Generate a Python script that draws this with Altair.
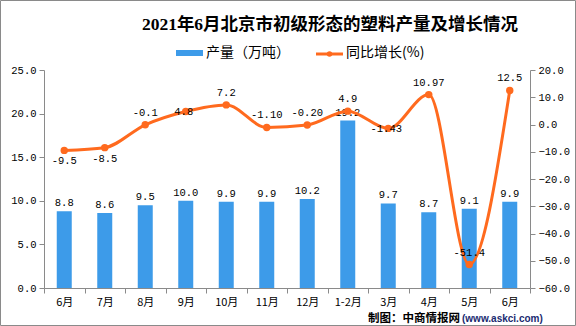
import json
import altair as alt
import pandas as pd

# ---- data ----
months = ["6月", "7月", "8月", "9月", "10月", "11月", "12月", "1-2月", "3月", "4月", "5月", "6月"]
output = [8.8, 8.6, 9.5, 10.0, 9.9, 9.9, 10.2, 19.2, 9.7, 8.7, 9.1, 9.9]
growth = [-9.5, -8.5, -0.1, 4.8, 7.2, -1.10, -0.20, 4.9, -1.43, 10.97, -51.4, 12.5]
growth_labels = ["-9.5", "-8.5", "-0.1", "4.8", "7.2", "-1.10", "-0.20", "4.9", "-1.43", "10.97", "-51.4", "12.5"]
left_ticks = [0, 5, 10, 15, 20, 25]
right_ticks = [-60, -50, -40, -30, -20, -10, 0, 10, 20]

df = pd.DataFrame({
    "idx": list(range(len(months))),
    "month": months,
    "output": output,
    "growth": growth,
    "glabel": growth_labels,
})

BLUE = "#3d9be9"
ORANGE = "#ff6a1e"
GRAY = "#8a8a8a"
MONO = "Liberation Mono"
CJK = "Noto Sans CJK SC"

label_expr = json.dumps(months, ensure_ascii=False) + "[datum.value]"

x_enc = alt.X(
    "idx:O",
    scale=alt.Scale(paddingInner=0, paddingOuter=0),
    axis=alt.Axis(
        title=None, labelExpr=label_expr, labelAngle=0, tickBand="extent",
        labelFont=CJK, labelFontSize=11, labelColor="#000000",
        domainColor=GRAY, tickColor=GRAY, tickSize=5, labelPadding=3,
    ),
)

y_left = alt.Y(
    "output:Q",
    scale=alt.Scale(domain=[0, 25], nice=False),
    axis=alt.Axis(
        title=None, orient="left", values=left_ticks, format=".1f", grid=False,
        labelFont=MONO, labelFontSize=10.5, labelColor="#000000",
        domainColor=GRAY, tickColor=GRAY, tickSize=5, labelPadding=3,
    ),
)

y_right = alt.Y(
    "growth:Q",
    scale=alt.Scale(domain=[-60, 20], nice=False),
    axis=alt.Axis(
        title=None, orient="right", values=right_ticks, format=".1f", grid=False,
        labelFont=MONO, labelFontSize=10.5, labelColor="#000000",
        domainColor=GRAY, tickColor=GRAY, tickSize=5, labelPadding=3,
    ),
)

base = alt.Chart(df)

bars = base.mark_bar(width=15, color=BLUE).encode(x=x_enc, y=y_left)
bar_text = base.mark_text(
    baseline="bottom", dy=-3, font=MONO, fontSize=10.5, color="#000000"
).encode(x=x_enc, y=y_left, text=alt.Text("output:Q", format=".1f"))

line = base.mark_line(interpolate="monotone", color=ORANGE, strokeWidth=3).encode(x=x_enc, y=y_right)
pts = base.mark_circle(size=55, color=ORANGE, opacity=1).encode(x=x_enc, y=y_right)

lbl_above = base.transform_filter(
    alt.FieldOneOfPredicate(field="idx", oneOf=[2, 4, 5, 6, 7, 9, 10, 11])
).mark_text(dy=-12, font=MONO, fontSize=10.5, color="#000000").encode(
    x=x_enc, y=y_right, text="glabel:N")
lbl_below = base.transform_filter(
    alt.FieldOneOfPredicate(field="idx", oneOf=[0, 1])
).mark_text(dy=11, font=MONO, fontSize=10.5, color="#000000").encode(
    x=x_enc, y=y_right, text="glabel:N")
lbl_center = base.transform_filter(
    alt.FieldOneOfPredicate(field="idx", oneOf=[3, 8])
).mark_text(dy=1, dx=-2, font=MONO, fontSize=10.5, color="#000000").encode(
    x=x_enc, y=y_right, text="glabel:N")

left_layer = alt.layer(bars, bar_text)
right_layer = alt.layer(line, pts, lbl_above, lbl_below, lbl_center)

one = alt.Data(values=[{"a": 1}])

title = alt.Chart(one).mark_text(
    font="Liberation Serif, Noto Sans CJK SC", fontSize=17.5, fontWeight="bold", color="#000000"
).encode(x=alt.value(286), y=alt.value(-45), text=alt.value("2021年6月北京市初级形态的塑料产量及增长情况"))

leg_rect = alt.Chart(one).mark_rect(color=BLUE).encode(
    x=alt.value(132), x2=alt.value(159), y=alt.value(-20), y2=alt.value(-14))
leg_text1 = alt.Chart(one).mark_text(align="left", font=CJK, fontSize=14, color="#000000").encode(
    x=alt.value(162), y=alt.value(-17), text=alt.value("产量（万吨）"))
leg_line = alt.Chart(one).mark_rule(color=ORANGE, strokeWidth=3).encode(
    x=alt.value(272), x2=alt.value(299), y=alt.value(-16))
leg_dot = alt.Chart(one).mark_circle(color=ORANGE, size=30, opacity=1).encode(
    x=alt.value(285.5), y=alt.value(-16))
leg_text2 = alt.Chart(one).mark_text(align="left", font=CJK, fontSize=14, color="#000000").encode(
    x=alt.value(302), y=alt.value(-17), text=alt.value("同比增长(%)"))

foot1 = alt.Chart(one).mark_text(align="left", font=CJK, fontSize=11.5, fontWeight="bold", color="#000000").encode(
    x=alt.value(324), y=alt.value(249), text=alt.value("制图：中商情报网"))
foot2 = alt.Chart(one).mark_text(align="left", font="Liberation Sans", fontSize=10, fontWeight="bold", color="#1a2a70").encode(
    x=alt.value(418), y=alt.value(249), text=alt.value("(www.askci.com)"))

border = alt.Chart(one).mark_rect(fillOpacity=0, stroke=GRAY, strokeWidth=1).encode(
    x=alt.value(-43.5), x2=alt.value(531.5), y=alt.value(-69.5), y2=alt.value(255.5))

chart = alt.layer(
    left_layer, right_layer, title, leg_rect, leg_text1, leg_line, leg_dot, leg_text2, foot1, foot2, border
).resolve_scale(y="independent").properties(
    width=486, height=218,
    autosize=alt.AutoSizeParams(type="none"),
    padding={"left": 44, "top": 70, "right": 46, "bottom": 38},
    background="#ffffff",
).configure_view(stroke=None)

chart.save("out.html", embed_options={"renderer": "svg", "actions": False})
